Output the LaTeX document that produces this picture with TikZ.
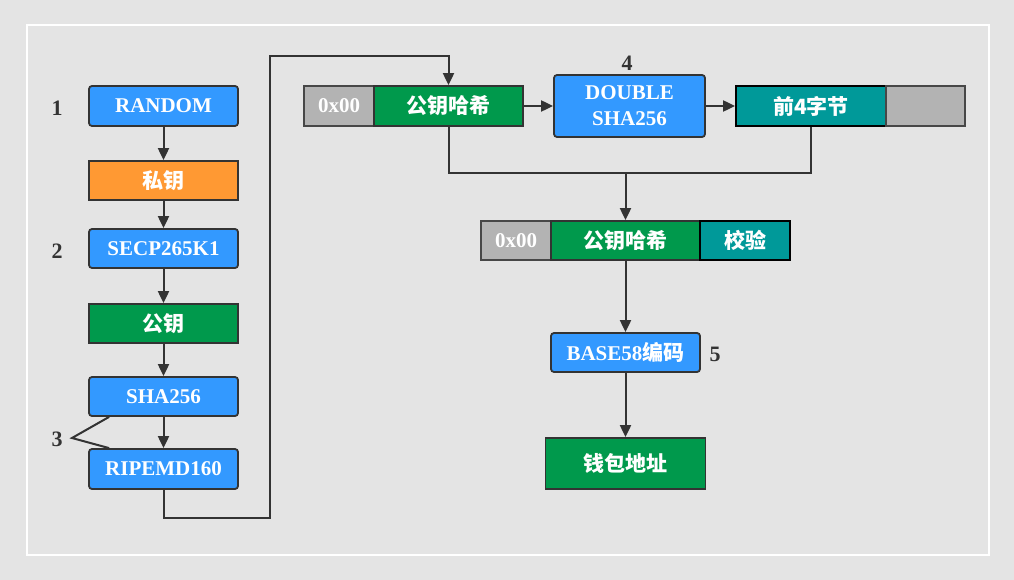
\documentclass[tikz,border=0pt]{standalone}
\usepackage{fontspec}
\setmainfont{Liberation Serif}
\newfontfamily\cjk{Noto Sans CJK SC}
\usetikzlibrary{arrows.meta}
\definecolor{bgray}{HTML}{E4E4E4}
\definecolor{lineclr}{HTML}{333333}
\definecolor{stepblue}{HTML}{3399FF}
\definecolor{keyorange}{HTML}{FF9933}
\definecolor{keygreen}{HTML}{00994C}
\definecolor{sumteal}{HTML}{009999}
\definecolor{padgray}{HTML}{B3B3B3}
\newcommand{\zh}[1]{{\cjk\bfseries #1}}
\tikzset{
  field/.style={draw=lineclr,line width=1.8pt,inner sep=0pt,text=white,
    font=\fontsize{21}{25}\selectfont\bfseries},
  stepbox/.style={field,fill=stepblue,rounded corners=3pt,minimum width=149pt,minimum height=40pt},
  keybox/.style={field,minimum width=149pt,minimum height=39pt},
  padbox/.style={field,fill=padgray,draw=lineclr!90,text=white,minimum width=70pt},
  sumbox/.style={field,fill=sumteal,draw=black},
  numlab/.style={text=lineclr,font=\fontsize{22}{25}\selectfont\bfseries},
  link/.style={draw=lineclr,line width=2pt},
  arr/.style={link,-{Triangle[length=12pt,width=11pt]}}
}
\begin{document}
\begin{tikzpicture}[x=1pt,y=-1pt]
\fill[bgray] (0,0) rectangle (1014,580);
\draw[white,line width=1.5pt] (27,25) rectangle (989,555);
\useasboundingbox (0,0) rectangle (1014,580);

% left column
\node[stepbox] (random) at (163.5,106) {RANDOM};
\node[keybox,fill=keyorange] (priv) at (163.5,180.5) {\zh{私钥}};
\node[stepbox,minimum height=39pt] (secp) at (163.5,248.5) {SECP265K1};
\node[keybox,fill=keygreen] (pub) at (163.5,323.5) {\zh{公钥}};
\node[stepbox,minimum height=39pt] (sha) at (163.5,396.5) {SHA256};
\node[stepbox] (ripe) at (163.5,469) {RIPEMD160};

\node[numlab] (one) at (57,108) {1};
\node[numlab] (two) at (57,251) {2};
\node[numlab] (three) at (57,439) {3};
\coordinate (tip) at (72,438);

% top row
\node[padbox,minimum height=40pt] (pre) at (339,106) {0x00};
\node[keybox,fill=keygreen,minimum height=40pt] (hash) at (448.5,106) {\zh{公钥哈希}};
\node[stepbox,minimum width=151pt,minimum height=62pt,align=center] (dbl) at (629.5,106) {DOUBLE\\[1pt]SHA256};
\node[numlab] (four) at (627,63) {4};
\node[sumbox,minimum width=150pt,minimum height=40pt] (chk) at (811,106) {\zh{前4字节}};
\node[padbox,minimum width=79pt,minimum height=40pt] (rest) at (925.5,106) {};

% second row
\node[padbox,minimum height=39pt] (pre2) at (516,240.5) {0x00};
\node[keybox,fill=keygreen] (hash2) at (625.5,240.5) {\zh{公钥哈希}};
\node[sumbox,minimum width=90pt,minimum height=39pt] (chk2) at (745,240.5) {\zh{校验}};

\node[stepbox,minimum height=39pt] (b58) at (625.5,352.5) {BASE58\zh{编码}};
\node[numlab] (five) at (715,354) {5};
\node[keybox,fill=keygreen,minimum width=160pt,minimum height=51pt] (addr) at (625.5,463.5) {\zh{钱包地址}};

% connectors
\draw[arr] (random) -- (priv);
\draw[arr] (priv) -- (secp);
\draw[arr] (secp) -- (pub);
\draw[arr] (pub) -- (sha);
\draw[arr] (sha) -- (ripe);
\draw[link] ([xshift=21pt]sha.south west) -- (tip) -- ([xshift=21pt]ripe.north west);

\coordinate (low) at (270,518);
\coordinate (high) at (270,56);
\draw[arr] (ripe.south) |- (low) -- (high) -| (hash.north);
\draw[arr] (hash) -- (dbl);
\draw[arr] (dbl) -- (chk);

\coordinate (join) at (625.5,173);
\draw[link] (hash.south) |- (join) -| (chk.south);
\draw[arr] (join) -- (hash2.north);
\draw[arr] (hash2) -- (b58);
\draw[arr] (b58) -- (addr);
\end{tikzpicture}
\end{document}
